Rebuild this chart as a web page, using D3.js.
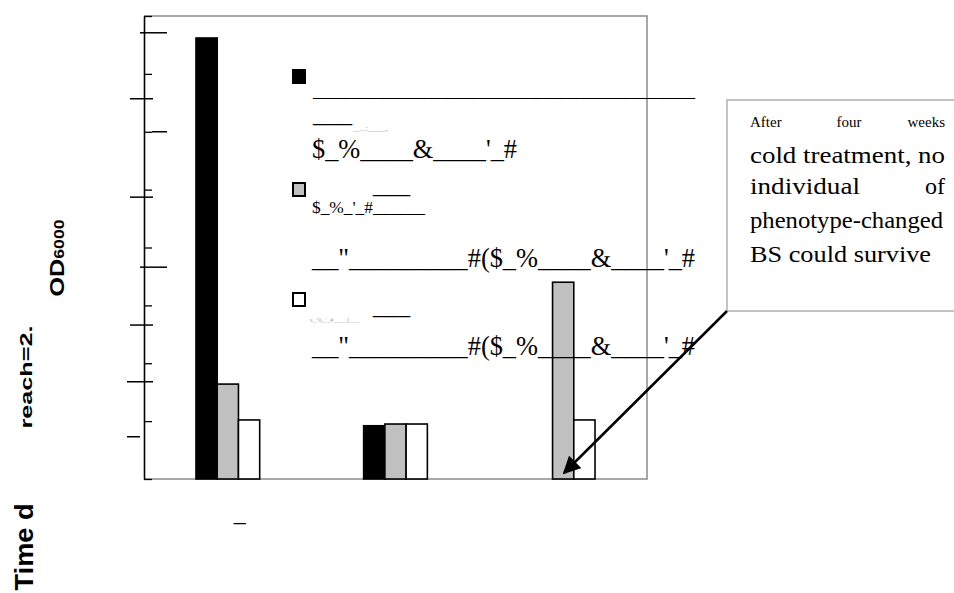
<!DOCTYPE html>
<html>
<head>
  <meta charset="utf-8">
  <title>OD bar chart</title>
  <script src="https://d3js.org/d3.v7.min.js"></script>
  <style>
    body { margin: 0; background: #fff; }
    .serif { font-family: "Liberation Serif", "Times New Roman", serif; fill: #000; }
    .sans { font-family: "Liberation Sans", Arial, sans-serif; font-weight: bold; fill: #000; }
  </style>
</head>
<body>
  <svg id="chart" width="954" height="593"></svg>
  <script>
    // data
    var groups = ["G1", "G2", "G3"];
    var groupLabels = ["_", "", ""];
    var seriesNames = ["black", "gray", "white"];
    var seriesColors = ["#000000", "#c0c0c0", "#ffffff"];
    var blackValues = [7.62, 0.92, 0];
    var grayValues = [1.64, 0.95, 3.40];
    var whiteValues = [1.02, 0.95, 1.02];
    var yTicks = [0, 1, 2, 3, 4, 5, 6, 7, 8];
    // stray tick marks drawn across the y axis in the original
    var strayTicks = [7.71, 6.57, 6.0, 4.87, 3.66, 2.66, 1.68, 0.73];
    var strayFrom = [-4, -14, 8, -14, -4, -14, -17, -17];
    var strayTo = [23, 9, 23, 9, 23, 9, 9, -4];

    var series = [blackValues, grayValues, whiteValues];
    var svg = d3.select("#chart");

    var plotLeft = 144, plotRight = 647, plotTop = 16, plotBottom = 479;

    var x0 = d3.scaleBand().domain(groups).range([plotLeft, plotRight])
               .paddingInner(0.62).paddingOuter(0.31);
    var x1 = d3.scaleBand().domain(seriesNames).range([0, x0.bandwidth()]);
    var y = d3.scaleLinear().domain([0, 8]).range([plotBottom, plotTop]);

    // frame (grey top, right, bottom)
    svg.append("path")
       .attr("d", "M" + plotLeft + "," + plotTop + "H" + plotRight + "V" + plotBottom + "H" + plotLeft)
       .attr("fill", "none").attr("stroke", "#8a8a8a").attr("stroke-width", 1.5);

    // bars
    var table = [];
    groups.forEach(function(g, i) {
      seriesNames.forEach(function(s, j) {
        table.push({group: g, series: s, value: series[j][i], color: seriesColors[j]});
      });
    });
    svg.append("g").selectAll("rect")
       .data(table.filter(d => d.value > 0))
       .enter().append("rect")
       .attr("x", d => x0(d.group) + x1(d.series))
       .attr("y", d => y(d.value))
       .attr("width", x1.bandwidth())
       .attr("height", d => y(0) - y(d.value))
       .attr("fill", d => d.color)
       .attr("stroke", "#000")
       .attr("stroke-width", 1.6);

    // y axis with small inward ticks, no labels
    var yAxis = svg.append("g")
       .attr("transform", "translate(" + plotLeft + ",0)")
       .call(d3.axisLeft(y).tickValues(yTicks).tickSize(-8).tickSizeOuter(0).tickFormat(""));
    yAxis.select(".domain").attr("stroke", "#000").attr("stroke-width", 1.6);
    yAxis.selectAll(".tick line").attr("stroke", "#000").attr("stroke-width", 1.3);

    // stray ticks
    svg.append("g").selectAll("line")
       .data(strayTicks)
       .enter().append("line")
       .attr("x1", (d, i) => plotLeft + strayFrom[i])
       .attr("x2", (d, i) => plotLeft + strayTo[i])
       .attr("y1", d => y(d)).attr("y2", d => y(d))
       .attr("stroke", "#000").attr("stroke-width", 1.5);

    // x label dash
    svg.append("g").selectAll("text")
       .data(groups)
       .enter().append("text")
       .attr("class", "serif")
       .attr("x", d => x0(d) + x0.bandwidth() / 2 + 12)
       .attr("y", 521)
       .attr("text-anchor", "middle")
       .style("font-size", "24px")
       .text((d, i) => groupLabels[i]);

    // legend (garbled text kept as is)
    var leg = svg.append("g");
    function legText(str, x, yy, size, len, color) {
      leg.append("text").attr("class", "serif")
         .attr("x", x).attr("y", yy)
         .attr("textLength", len).attr("lengthAdjust", "spacingAndGlyphs")
         .style("font-size", size + "px")
         .style("fill", color || "#000")
         .text(str);
    }
    var swatchY = [70, 183, 293];
    swatchY.forEach(function(sy, i) {
      leg.append("rect").attr("x", 293).attr("y", sy).attr("width", 12).attr("height", 13)
         .attr("fill", seriesColors[i]).attr("stroke", "#000").attr("stroke-width", 2);
    });
    legText("______________________________", 313, 96, 22, 382);
    legText("___", 313, 122, 20, 39);
    legText("_..:___,", 354, 131, 8, 34, "#aaa");
    legText("$_%____&____'_#", 312, 158, 27, 205);
    legText("___", 373, 193, 20, 37);
    legText("$_%_'_#______", 312, 213, 16, 113);
    legText("__\"_________#($_%____&____'_#", 312, 267, 27, 383);
    legText("___", 373, 314, 20, 37);
    legText("s_%_'_#____(___", 310, 322, 6, 50, "#aaa");
    legText("__\"_________#($_%____&____'_#", 312, 355, 27, 383);

    // annotation box
    svg.append("rect").attr("x", 727).attr("y", 100).attr("width", 240).attr("height", 211)
       .attr("fill", "#fff").attr("stroke", "#b0b0b0").attr("stroke-width", 1.5);
    var note = svg.append("g").attr("class", "serif");
    note.append("text").attr("x", 750).attr("y", 127).style("font-size", "15px").text("After");
    note.append("text").attr("x", 849).attr("y", 127).attr("text-anchor", "middle").style("font-size", "15px").text("four");
    note.append("text").attr("x", 945).attr("y", 127).attr("text-anchor", "end").style("font-size", "15px").text("weeks");
    note.append("text").attr("x", 750).attr("y", 163).attr("textLength", 195).attr("lengthAdjust", "spacingAndGlyphs")
        .style("font-size", "24px").text("cold treatment, no");
    note.append("text").attr("x", 750).attr("y", 194).attr("textLength", 110).attr("lengthAdjust", "spacingAndGlyphs")
        .style("font-size", "24px").text("individual");
    note.append("text").attr("x", 945).attr("y", 194).attr("text-anchor", "end").style("font-size", "24px").text("of");
    note.append("text").attr("x", 750).attr("y", 228).attr("textLength", 193).attr("lengthAdjust", "spacingAndGlyphs")
        .style("font-size", "24px").text("phenotype-changed");
    note.append("text").attr("x", 750).attr("y", 262).attr("textLength", 181).attr("lengthAdjust", "spacingAndGlyphs")
        .style("font-size", "24px").text("BS could survive");

    // arrow from box to the missing black bar of group 3
    svg.append("defs").append("marker")
       .attr("id", "head").attr("viewBox", "0 0 10 10")
       .attr("refX", 9).attr("refY", 5)
       .attr("markerWidth", 7).attr("markerHeight", 7)
       .attr("orient", "auto")
       .append("path").attr("d", "M0,0L10,5L0,10Z").attr("fill", "#000");
    svg.append("line")
       .attr("x1", 727).attr("y1", 311)
       .attr("x2", 564).attr("y2", 473)
       .attr("stroke", "#000").attr("stroke-width", 2.5)
       .attr("marker-end", "url(#head)");

    // axis titles
    var od = svg.append("text").attr("class", "sans")
       .attr("transform", "translate(64,258) rotate(-90)")
       .attr("text-anchor", "middle")
       .attr("textLength", 77).attr("lengthAdjust", "spacingAndGlyphs");
    od.append("tspan").style("font-size", "20px").text("OD");
    od.append("tspan").style("font-size", "14px").text("6000");

    svg.append("text").attr("class", "sans")
       .attr("transform", "translate(32,377) rotate(-90)")
       .attr("text-anchor", "middle")
       .attr("textLength", 103).attr("lengthAdjust", "spacingAndGlyphs")
       .style("font-size", "17px")
       .text("reach=2.");

    svg.append("text").attr("class", "sans")
       .attr("transform", "translate(33,547) rotate(-90)")
       .attr("text-anchor", "middle")
       .attr("textLength", 87).attr("lengthAdjust", "spacingAndGlyphs")
       .style("font-size", "26px")
       .text("Time d");
  </script>
</body>
</html>
